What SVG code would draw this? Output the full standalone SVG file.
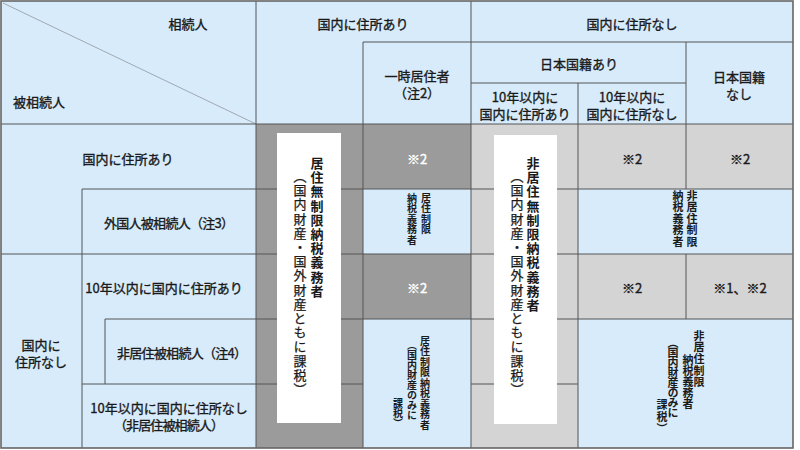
<svg xmlns="http://www.w3.org/2000/svg" width="800" height="450" viewBox="0 0 800 450">
<style>
  text { font-family: "Noto Sans CJK JP", "Noto Sans", sans-serif; font-size: 13px; fill: #1a1a1a; }
  .h { text-anchor: middle; dominant-baseline: central; stroke: #1a1a1a; stroke-width: 0.35px; }
  .l { text-anchor: start; dominant-baseline: central; stroke: #1a1a1a; stroke-width: 0.35px; }
  .w { fill: #ffffff; stroke: #ffffff; }
  .v { writing-mode: vertical-rl; text-anchor: start; }
  .vb { font-size: 13px; letter-spacing: 1.2px; }
  .bold { font-weight: 700; }
  .reg { font-weight: 400; stroke: #1a1a1a; stroke-width: 0.25px; }
  .vs { font-size: 10px; }
  .vm { font-size: 11px; }
  .blue { fill: #d7ebfb; }
  .dg { fill: #9b9b9b; }
  .lg { fill: #d4d4d4; }
  .box { fill: #ffffff; }
  .grid line { stroke: #555555; stroke-width: 1; }
</style>

<rect x="0" y="0" width="800" height="450" fill="#ffffff"/>

<g id="cells">
  <rect class="blue" x="1" y="1" width="792" height="447"/>
  <rect class="dg" x="256" y="124" width="107" height="324"/>
  <rect class="dg" x="363" y="124" width="108" height="65"/>
  <rect class="dg" x="363" y="254" width="108" height="65"/>
  <rect class="lg" x="471" y="124" width="107" height="324"/>
  <rect class="lg" x="578" y="124" width="215" height="65"/>
  <rect class="lg" x="578" y="254" width="215" height="65"/>
</g>

<g id="grid" class="grid">
  <line x1="3" y1="3" x2="256" y2="124" style="stroke:#a0a8b0"/>
  <line x1="363" y1="42" x2="793" y2="42"/>
  <line x1="471" y1="83" x2="686" y2="83"/>
  <line x1="1" y1="124" x2="793" y2="124"/>
  <line x1="82" y1="189" x2="793" y2="189"/>
  <line x1="1" y1="254" x2="793" y2="254"/>
  <line x1="105" y1="319" x2="793" y2="319"/>
  <line x1="82" y1="384" x2="363" y2="384"/>
  <line x1="471" y1="384" x2="578" y2="384"/>
  <line x1="82" y1="189" x2="82" y2="448"/>
  <line x1="105" y1="319" x2="105" y2="384"/>
  <line x1="256" y1="1" x2="256" y2="448"/>
  <line x1="363" y1="42" x2="363" y2="448"/>
  <line x1="471" y1="1" x2="471" y2="448"/>
  <line x1="578" y1="83" x2="578" y2="448"/>
  <line x1="686" y1="42" x2="686" y2="189"/>
  <line x1="686" y1="254" x2="686" y2="319"/>
  <rect x="1" y="1" width="792" height="447" fill="none" stroke="#666666" stroke-width="1.6"/>
</g>

<g id="header">
  <text class="h" x="188" y="23">相続人</text>
  <text class="l" x="13" y="101">被相続人</text>
  <text class="h" x="363" y="23">国内に住所あり</text>
  <text class="h" x="632" y="23">国内に住所なし</text>
  <text class="h" x="417" y="75">一時居住者<tspan x="417" dy="17">（注2）</tspan></text>
  <text class="h" x="579" y="63">日本国籍あり</text>
  <text class="h" x="525" y="96">10年以内に<tspan x="525" dy="17">国内に住所あり</tspan></text>
  <text class="h" x="632" y="96">10年以内に<tspan x="632" dy="17">国内に住所なし</tspan></text>
  <text class="h" x="739" y="76">日本国籍<tspan x="739" dy="17">なし</tspan></text>
</g>

<g id="rows">
  <text class="h" x="128" y="158">国内に住所あり</text>
  <text class="h" x="169" y="222" textLength="130" lengthAdjust="spacing">外国人被相続人（注3）</text>
  <text class="h" x="164" y="287">10年以内に国内に住所あり</text>
  <text class="h" x="182" y="352" textLength="130" lengthAdjust="spacing">非居住被相続人（注4）</text>
  <text class="h" x="41" y="344">国内に<tspan x="41" dy="17">住所なし</tspan></text>
  <text class="h" x="169" y="407">10年以内に国内に住所なし<tspan x="169" dy="17" textLength="110" lengthAdjust="spacing">（非居住被相続人）</tspan></text>
</g>

<g id="marks">
  <text class="h w" x="417" y="158">※2</text>
  <text class="h w" x="417" y="287">※2</text>
  <text class="h" x="632" y="158">※2</text>
  <text class="h" x="740" y="158">※2</text>
  <text class="h" x="632" y="287">※2</text>
  <text class="h" x="740" y="287">※1、※2</text>
</g>

<g id="resident-unlimited">
  <rect class="box" x="277" y="133" width="64" height="290"/>
  <text class="v vb bold" x="317" y="156.5">居住無制限納税義務者</text>
  <text class="v vb reg" x="300" y="169.5">（国内財産・国外財産ともに課税）</text>
</g>

<g id="nonresident-unlimited">
  <rect class="box" x="494" y="135" width="63" height="289"/>
  <text class="v vb bold" x="533" y="156.5">非居住無制限納税義務者</text>
  <text class="v vb reg" x="517" y="169.5">（国内財産・国外財産ともに課税）</text>
</g>

<g id="resident-limited-1">
  <text class="v vs bold" x="426" y="193" style="letter-spacing:0.5px">居住制限</text>
  <text class="v vs bold" x="412" y="193" style="letter-spacing:0.5px">納税義務者</text>
</g>

<g id="resident-limited-2">
  <text class="v vs bold" x="425" y="336" style="letter-spacing:0.5px">居住制限納税義務者</text>
  <text class="v vs bold" x="412" y="340">（国内財産のみに</text>
  <text class="v vs bold" x="398" y="398">課税）</text>
</g>

<g id="nonresident-limited-1">
  <text class="v vm bold" x="692" y="190" style="letter-spacing:0.5px">非居住制限</text>
  <text class="v vm bold" x="678" y="190" style="letter-spacing:0.5px">納税義務者</text>
</g>

<g id="nonresident-limited-2">
  <text class="v vm bold" x="699" y="330" style="letter-spacing:0.7px">非居住制限</text>
  <text class="v vm bold" x="688" y="354">納税義務者</text>
  <text class="v vm bold" x="673" y="337" style="letter-spacing:-1px">（国内財産のみに</text>
  <text class="v vm bold" x="662" y="399.5" style="letter-spacing:1px">課税）</text>
</g>
</svg>
